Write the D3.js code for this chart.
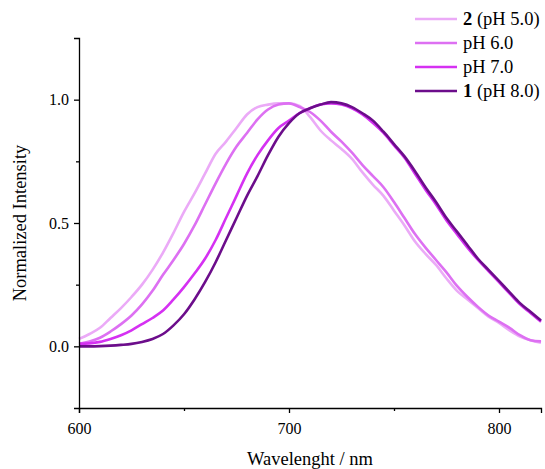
<!DOCTYPE html>
<html>
<head>
<meta charset="utf-8">
<script src="https://cdn.jsdelivr.net/npm/d3@7"></script>
<style>
  html, body { margin: 0; padding: 0; background: #fff; }
  svg { display: block; }
  text { font-family: "Liberation Serif", "Times New Roman", serif; fill: #000; }
</style>
</head>
<body>
<svg id="chart" width="545" height="469"></svg>
<script>
// Emission spectra, sampled every 5 nm from 600 to 820 nm
const wavelengths = d3.range(600, 821, 5);

const pH5 = [0.03, 0.05, 0.075, 0.115, 0.155, 0.20, 0.25, 0.31, 0.38, 0.46,
  0.545, 0.62, 0.70, 0.78, 0.83, 0.885, 0.94, 0.97, 0.98, 0.985,
  0.985, 0.975, 0.93, 0.875, 0.835, 0.80, 0.76, 0.705, 0.655, 0.61,
  0.55, 0.49, 0.425, 0.375, 0.33, 0.275, 0.225, 0.19, 0.155, 0.12,
  0.095, 0.065, 0.04, 0.025, 0.015];

const pH6 = [0.01, 0.02, 0.035, 0.06, 0.09, 0.125, 0.17, 0.225, 0.29, 0.35,
  0.415, 0.49, 0.575, 0.66, 0.74, 0.81, 0.865, 0.92, 0.96, 0.98,
  0.985, 0.97, 0.95, 0.915, 0.87, 0.83, 0.785, 0.735, 0.69, 0.645,
  0.585, 0.52, 0.455, 0.40, 0.35, 0.30, 0.245, 0.20, 0.16, 0.125,
  0.10, 0.075, 0.045, 0.025, 0.02];

const pH7 = [0.01, 0.012, 0.018, 0.03, 0.045, 0.065, 0.09, 0.115, 0.145, 0.19,
  0.24, 0.295, 0.355, 0.43, 0.52, 0.61, 0.70, 0.775, 0.835, 0.885,
  0.915, 0.945, 0.965, 0.98, 0.985, 0.98, 0.965, 0.94, 0.905, 0.865,
  0.815, 0.765, 0.70, 0.635, 0.575, 0.51, 0.455, 0.40, 0.35, 0.305,
  0.26, 0.215, 0.17, 0.135, 0.10];

const pH8 = [0.0, 0.0, 0.001, 0.003, 0.006, 0.01, 0.018, 0.03, 0.05, 0.085,
  0.13, 0.19, 0.26, 0.34, 0.43, 0.52, 0.61, 0.69, 0.775, 0.85,
  0.905, 0.945, 0.965, 0.98, 0.99, 0.985, 0.97, 0.945, 0.915, 0.87,
  0.82, 0.77, 0.71, 0.645, 0.585, 0.52, 0.465, 0.41, 0.355, 0.31,
  0.265, 0.22, 0.175, 0.14, 0.105];

const seriesNames = ["pH 5.0", "pH 6.0", "pH 7.0", "pH 8.0"];
const seriesColors = ["#ebaaf7", "#dd70f2", "#d531f2", "#6c0d8b"];
const xTicks = [600, 700, 800];
const yTicks = [0.0, 0.5, 1.0];

const series = [pH5, pH6, pH7, pH8].map((vals, i) => ({
  name: seriesNames[i],
  color: seriesColors[i],
  points: vals.map((v, j) => [wavelengths[j], v])
}));

const svg = d3.select("#chart");
const m = { left: 79, right: 541, top: 38, bottom: 408 };

const x = d3.scaleLinear().domain([600, 820]).range([m.left, m.right]);
const y = d3.scaleLinear().domain([-0.25, 1.25]).range([m.bottom, m.top]);

// Curves (drawn first so the axes sit on top); pH 8.0 last, on top
const line = d3.line().curve(d3.curveMonotoneX).x(d => x(d[0])).y(d => y(d[1]));
const plot = svg.append("g");
series.forEach(s => {
  plot.append("path")
    .attr("d", line(s.points))
    .attr("fill", "none")
    .attr("stroke", s.color)
    .attr("stroke-width", 2.6)
    .attr("stroke-linejoin", "round");
});

// Axes: left and bottom only, ticks pointing outward
const xAxis = d3.axisBottom(x).tickValues(xTicks).tickFormat(d3.format("d"))
  .tickSize(5).tickPadding(10);
const xMinor = d3.axisBottom(x).tickValues([650, 750]).tickFormat("").tickSize(3);
const yAxis = d3.axisLeft(y).tickValues(yTicks).tickFormat(d3.format(".1f"))
  .tickSize(5).tickPadding(5);
const yMinor = d3.axisLeft(y).tickValues([0.25, 0.75]).tickFormat("").tickSize(3);

function styleAxis(g) {
  g.select(".domain").attr("stroke", "#000").attr("stroke-width", 1.3);
  g.selectAll(".tick line").attr("stroke", "#000").attr("stroke-width", 1.3);
  g.selectAll(".tick text")
    .attr("font-family", "Liberation Serif, Times New Roman, serif")
    .attr("font-size", 16)
    .attr("fill", "#000");
}

svg.append("g").attr("transform", `translate(0,${m.bottom})`).call(xAxis).call(styleAxis);
svg.append("g").attr("transform", `translate(0,${m.bottom})`).call(xMinor).call(styleAxis)
  .select(".domain").remove();
svg.append("g").attr("transform", `translate(${m.left},0)`).call(yAxis).call(styleAxis);
svg.append("g").attr("transform", `translate(${m.left},0)`).call(yMinor).call(styleAxis)
  .select(".domain").remove();

// Axis titles
svg.append("text")
  .attr("x", (m.left + m.right) / 2)
  .attr("y", 465)
  .attr("text-anchor", "middle")
  .attr("font-size", 18.5)
  .text("Wavelenght / nm");

svg.append("text")
  .attr("transform", `translate(26,${(m.top + m.bottom) / 2}) rotate(-90)`)
  .attr("text-anchor", "middle")
  .attr("font-size", 18.5)
  .text("Normalized Intensity");

// Legend
const legendLabels = [
  { bold: "2", rest: " (pH 5.0)" },
  { bold: "", rest: "pH 6.0" },
  { bold: "", rest: "pH 7.0" },
  { bold: "1", rest: " (pH 8.0)" }
];
const legend = svg.append("g");
series.forEach((s, i) => {
  const ly = 19 + i * 24;
  legend.append("line")
    .attr("x1", 415).attr("x2", 457)
    .attr("y1", ly).attr("y2", ly)
    .attr("stroke", s.color)
    .attr("stroke-width", 2.6);
  const t = legend.append("text")
    .attr("x", 463)
    .attr("y", ly + 6)
    .attr("font-size", 18.5);
  if (legendLabels[i].bold) {
    t.append("tspan").attr("font-weight", "bold").text(legendLabels[i].bold);
  }
  t.append("tspan").text(legendLabels[i].rest);
});
</script>
</body>
</html>
